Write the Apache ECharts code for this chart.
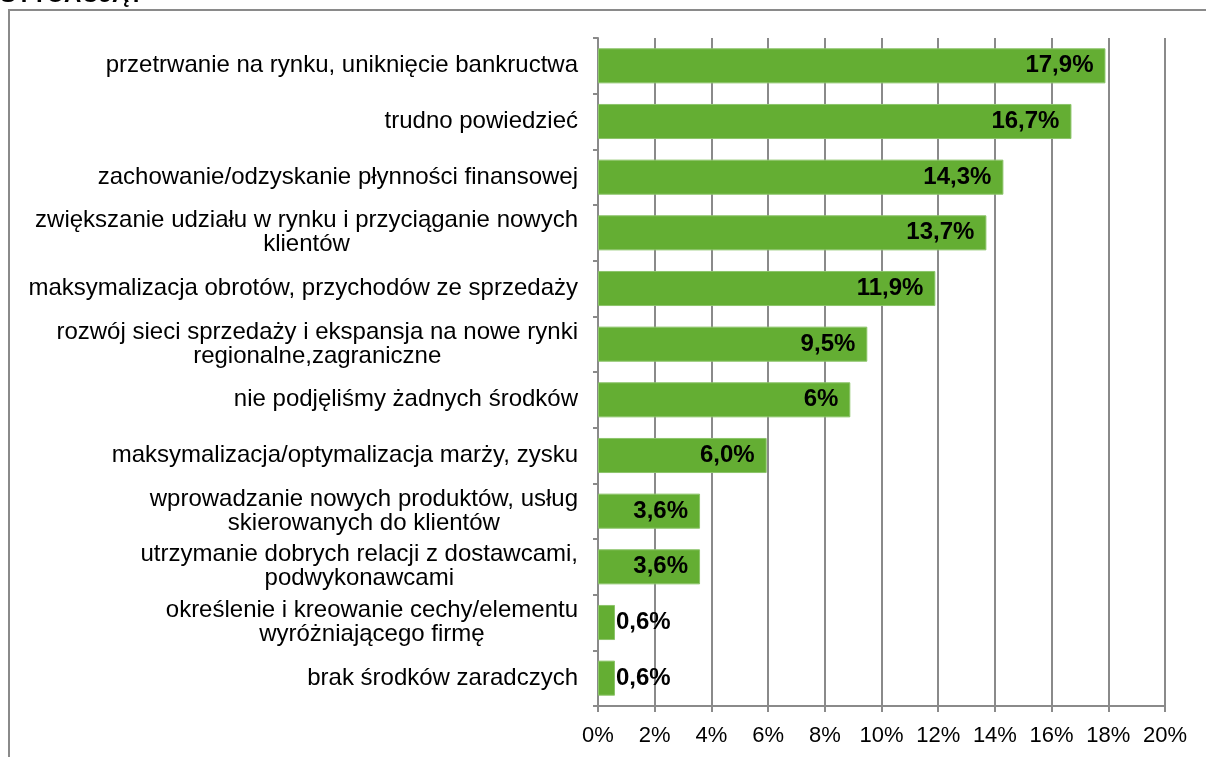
<!DOCTYPE html>
<html>
<head>
<meta charset="utf-8">
<script src="https://cdn.jsdelivr.net/npm/echarts@6/dist/echarts.min.js"></script>
<style>
  html, body { margin: 0; padding: 0; background: #fff; }
  #chart { width: 1206px; height: 757px; }
</style>
</head>
<body>
<div id="chart"></div>
<script>
// kategorie (od góry)
var categories = [
    'przetrwanie na rynku, uniknięcie bankructwa',
    'trudno powiedzieć',
    'zachowanie/odzyskanie płynności finansowej',
    'zwiększanie udziału w rynku i przyciąganie nowych\nklientów',
    'maksymalizacja obrotów, przychodów ze sprzedaży',
    'rozwój sieci sprzedaży i ekspansja na nowe rynki\nregionalne,zagraniczne',
    'nie podjęliśmy żadnych środków',
    'maksymalizacja/optymalizacja marży, zysku',
    'wprowadzanie nowych produktów, usług\nskierowanych do klientów',
    'utrzymanie dobrych relacji z dostawcami,\npodwykonawcami',
    'określenie i kreowanie cechy/elementu\nwyróżniającego firmę',
    'brak środków zaradczych'
];
var values = [17.9, 16.7, 14.3, 13.7, 11.9, 9.5, 8.9, 5.95, 3.6, 3.6, 0.6, 0.6];
var barLabels = ['17,9%', '16,7%', '14,3%', '13,7%', '11,9%', '9,5%', '6%', '6,0%', '3,6%', '3,6%', '0,6%', '0,6%'];
var xTicks = ['0%', '2%', '4%', '6%', '8%', '10%', '12%', '14%', '16%', '18%', '20%'];

var FONT = 'Arial, "Liberation Sans", sans-serif';
var GRAY = '#8a8a8a';

var chart = echarts.init(document.getElementById('chart'));

// etykiety: małe słupki -> na zewnątrz
var seriesData = values.map(function (v, i) {
    var small = v < 2;
    return {
        value: v,
        label: {
            show: true,
            position: small ? 'right' : 'insideRight',
            distance: small ? 1 : 12,
            formatter: barLabels[i]
        }
    };
});

var option = {
    backgroundColor: '#fff',
    animation: false,
    graphic: [
        { type: 'text', left: 0, top: -17, silent: true,
          style: { text: 'SYTUACJĄ?', font: 'bold 24px ' + FONT, fill: '#000' } },
        { type: 'rect', silent: true, z: -1,
          shape: { x: 9, y: 10, width: 1220, height: 770 },
          style: { fill: 'none', stroke: GRAY, lineWidth: 2 } }
    ],
    grid: { left: 598, right: 41, top: 38, bottom: 51, containLabel: false },
    xAxis: {
        type: 'value',
        min: 0, max: 20, interval: 2,
        axisLine: { show: true, lineStyle: { color: GRAY, width: 2 } },
        axisTick: { show: true, length: 6, lineStyle: { color: GRAY, width: 2 } },
        splitLine: { show: true, lineStyle: { color: GRAY, width: 2 } },
        axisLabel: {
            margin: 19, fontSize: 22, color: '#000', fontFamily: FONT,
            formatter: function (v) { return xTicks[Math.round(v / 2)]; }
        }
    },
    yAxis: {
        type: 'category',
        inverse: true,
        data: categories,
        axisLine: { show: true, lineStyle: { color: GRAY, width: 2 } },
        axisTick: { show: true, length: 5, lineStyle: { color: GRAY, width: 2 } },
        axisLabel: {
            margin: 20, color: '#000', fontSize: 24, fontFamily: FONT,
            align: 'right', lineHeight: 24,
            formatter: function (v) {
                return v.split('\n').map(function (s) { return '{c|' + s + '}'; }).join('\n');
            },
            rich: { c: { align: 'center', fontSize: 24, lineHeight: 24, fontFamily: FONT, color: '#000' } }
        }
    },
    series: [{
        type: 'bar',
        data: seriesData,
        barCategoryGap: '37%',
        itemStyle: { color: '#64ae33', borderColor: '#8cc46a', borderWidth: 1 },
        label: { fontSize: 24, fontWeight: 'bold', color: '#000', fontFamily: FONT }
    }]
};

chart.setOption(option);
</script>
</body>
</html>
